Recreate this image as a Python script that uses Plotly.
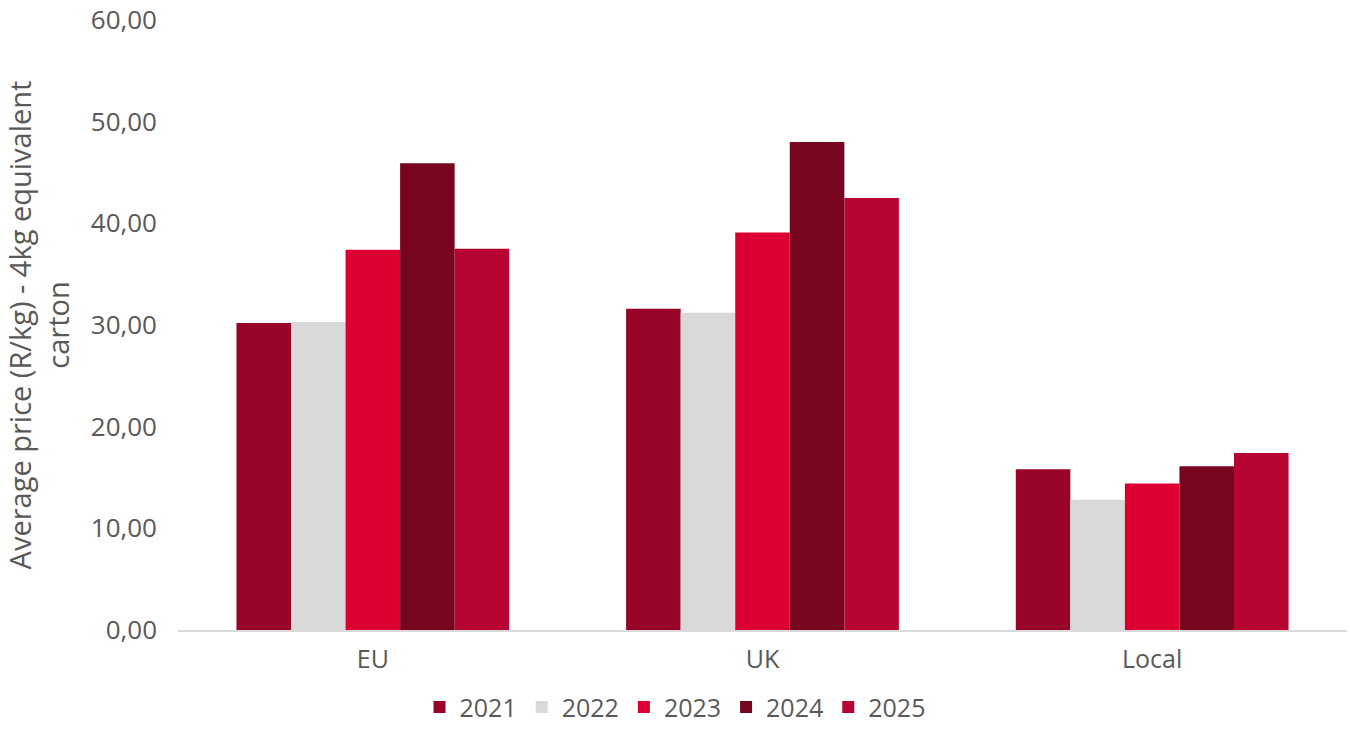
import plotly.graph_objects as go

markets = ["EU", "UK", "Local"]
years = ["2021", "2022", "2023", "2024", "2025"]
prices = {
    "2021": [30.2, 31.6, 15.8],
    "2022": [30.3, 31.2, 12.8],
    "2023": [37.4, 39.1, 14.4],
    "2024": [45.9, 48.0, 16.1],
    "2025": [37.5, 42.5, 17.4],
}
colors = {
    "2021": "#970428",
    "2022": "#D9D9D9",
    "2023": "#DC0032",
    "2024": "#78051F",
    "2025": "#B70532",
}
y_ticks = [0, 10, 20, 30, 40, 50, 60]
y_tick_text = ["0,00", "10,00", "20,00", "30,00", "40,00", "50,00", "60,00"]

font_family = "Open Sans, sans-serif"
text_color = "#595959"

fig = go.Figure()
for yr in years:
    fig.add_trace(go.Bar(
        name=yr,
        x=markets,
        y=prices[yr],
        marker=dict(color=colors[yr], line=dict(width=0)),
    ))

fig.update_layout(
    barmode="group",
    bargap=0.3,
    bargroupgap=0,
    width=1350,
    height=729,
    margin=dict(l=178, r=3, t=20, b=99, autoexpand=False),
    plot_bgcolor="white",
    paper_bgcolor="white",
    font=dict(family=font_family, color=text_color, size=26),
    showlegend=True,
    legend=dict(
        orientation="h",
        xref="container",
        x=0.5, xanchor="center",
        yref="container",
        y=0.03, yanchor="middle",
        font=dict(size=25, color=text_color),
        itemwidth=30,
        traceorder="normal",
    ),
    xaxis=dict(
        showgrid=False,
        showline=True,
        linecolor="#D9D9D9",
        linewidth=1.5,
        ticks="",
        ticklabelstandoff=6,
        tickfont=dict(size=25, color=text_color),
    ),
    yaxis=dict(
        range=[0, 60],
        tickvals=y_ticks,
        ticktext=y_tick_text,
        showgrid=False,
        zeroline=False,
        showline=False,
        ticks="",
        ticklabelstandoff=20,
        tickfont=dict(size=26, color=text_color),
        title=dict(
            text="Average price (R/kg) - 4kg equivalent<br>carton",
            font=dict(size=29, color=text_color),
            standoff=16,
        ),
    ),
)

fig.write_html("out.html")
